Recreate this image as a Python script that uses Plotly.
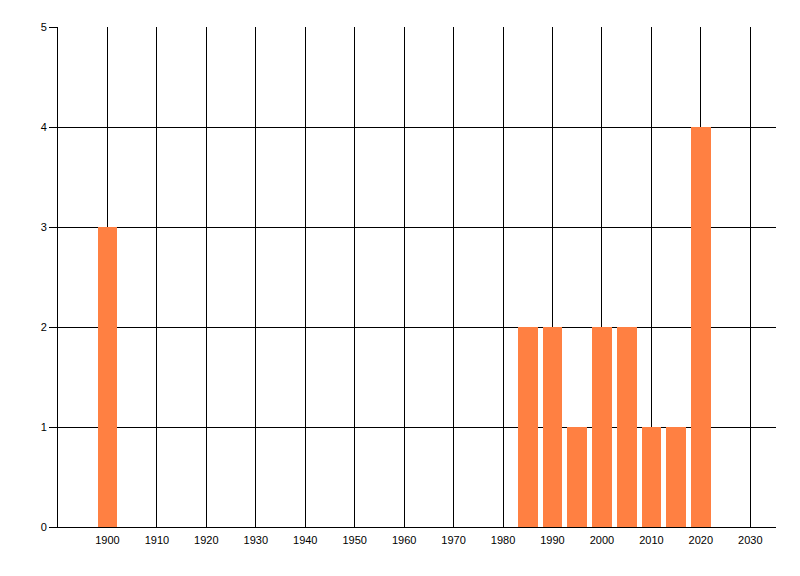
import plotly.graph_objects as go

years = [1900, 1985, 1990, 1995, 2000, 2005, 2010, 2015, 2020]
counts = [3, 2, 2, 1, 2, 2, 1, 1, 4]
x_ticks = list(range(1900, 2031, 10))
y_ticks = [0, 1, 2, 3, 4, 5]

fig = go.Figure(go.Bar(x=years, y=counts, width=4, marker=dict(color="#FF8042", line=dict(width=0))))

fig.update_layout(
    width=800, height=576,
    margin=dict(l=50, r=32, t=19, b=57),
    paper_bgcolor="white", plot_bgcolor="white",
    font=dict(family="Liberation Sans, Arial, sans-serif", size=11, color="black"),
    showlegend=False,
    bargap=0,
)
fig.update_xaxes(
    range=[1890, 2035.2], tickvals=x_ticks, ticktext=[str(v) for v in x_ticks],
    showgrid=True, gridcolor="black", gridwidth=1,
    showline=True, linecolor="black", linewidth=1,
    ticks="", zeroline=False, ticklabelstandoff=3,
)
fig.update_yaxes(
    range=[0, 5], tickvals=y_ticks,
    showgrid=True, gridcolor="black", gridwidth=1,
    showline=True, linecolor="black", linewidth=1,
    ticks="outside", ticklen=8, tickcolor="black", tickwidth=1,
    zeroline=False,
)

fig.write_html("out.html")
